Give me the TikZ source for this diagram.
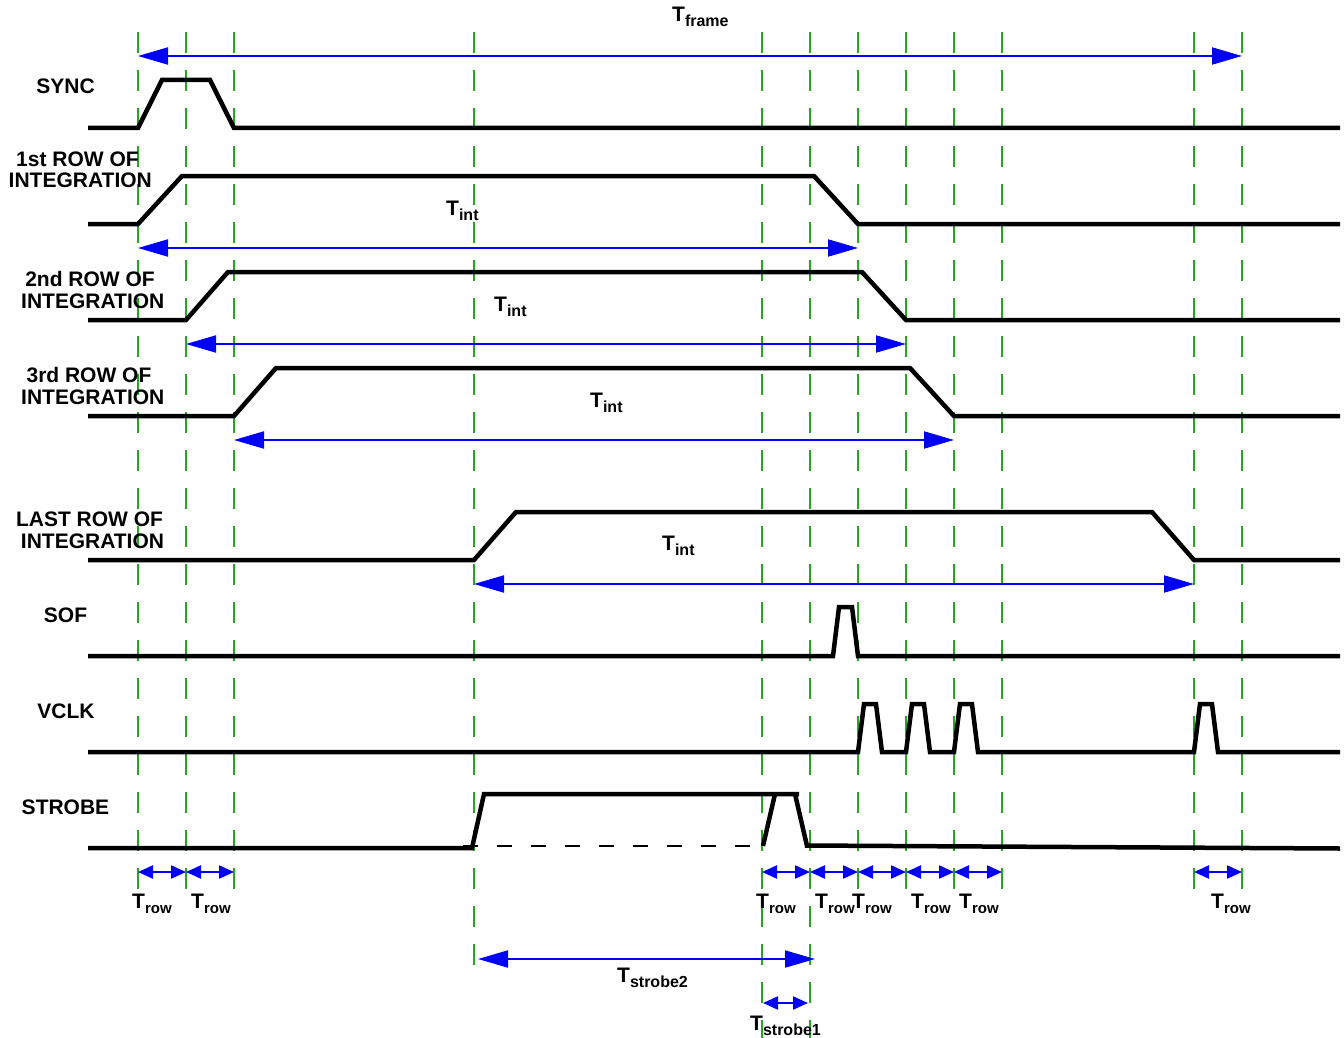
\documentclass[tikz,border=0pt]{standalone}
\usepackage{fontspec}
\setmainfont{Liberation Sans}
\usetikzlibrary{arrows.meta}
\definecolor{gridgreen}{RGB}{30,172,30}
\definecolor{dimblue}{RGB}{0,0,250}
\newcommand\Tsub[1]{T\raisebox{-5pt}{\fontsize{16}{16}\selectfont #1}}
\newcommand\Trowlbl{T\raisebox{-5pt}{\fontsize{15}{15}\selectfont row}}
\tikzset{
  sig/.style={draw=black, line width=4.5pt, line join=miter},
  gridline/.style={draw=gridgreen, line width=2pt, dash pattern=on 21pt off 17pt},
  dimbig/.style={draw=dimblue, line width=2pt,
    {Triangle[length=30pt,width=17pt]}-{Triangle[length=30pt,width=17pt]}},
  dimsmall/.style={draw=dimblue, line width=2.2pt,
    {Triangle[length=15pt,width=13pt]}-{Triangle[length=15pt,width=13pt]}},
  lbl/.style={font=\bfseries\fontsize{21}{21}\selectfont, inner sep=0pt, anchor=base},
  tlbl/.style={font=\bfseries\fontsize{21}{21}\selectfont, inner sep=0pt, anchor=base west},
}
\begin{document}
\begin{tikzpicture}[x=1pt,y=-1pt]
\useasboundingbox (0,0) rectangle (1344,1038);

% ---- grid (green dashed) ----
\foreach \n/\x/\b in {1/138/896, 2/186/896, 3/234/896, 4/474/965, 5/762/1038, 6/810/1038,
                      7/858/896, 8/906/896, 9/954/896, 10/1002/896, 11/1194/896, 12/1242/896}{
  \coordinate (gt\n) at (\x,32);
  \coordinate (gb\n) at (\x,\b);
  \draw[gridline] (gt\n) -- (gb\n);
}

% ---- reference heights for dimension arrows ----
\coordinate (yframe) at (0,56);
\coordinate (yint1) at (0,248);
\coordinate (yint2) at (0,344);
\coordinate (yint3) at (0,440);
\coordinate (yint4) at (0,584);
\coordinate (yrow) at (0,872);

% ---- dimension arrows ----
\draw[dimbig] (gt1 |- yframe) -- (gt12 |- yframe);
\draw[dimbig] (gt1 |- yint1) -- (gt7 |- yint1);
\draw[dimbig] (gt2 |- yint2) -- (gt8 |- yint2);
\draw[dimbig] (gt3 |- yint3) -- (gt9 |- yint3);
\draw[dimbig] (gt4 |- yint4) -- (gt11 |- yint4);
\coordinate (s2a) at (478,959);
\coordinate (s2b) at (815,959);
\draw[dimbig] (s2a) -- (s2b);
\coordinate (s1a) at (763,1003);
\coordinate (s1b) at (808,1003);
\draw[dimsmall] (s1a) -- (s1b);
\foreach \a/\b in {1/2, 2/3, 5/6, 6/7, 7/8, 8/9, 9/10, 11/12}{
  \draw[dimsmall] (gt\a |- yrow) -- (gt\b |- yrow);
}

% ---- signals ----
\draw[sig] (88,128) -- (138,128) -- (162,80) -- (210,80) -- (234,128) -- (1340,128);
\draw[sig] (88,224) -- (138,224) -- (182,176) -- (814,176) -- (858,224) -- (1340,224);
\draw[sig] (88,320) -- (186,320) -- (228,272) -- (862,272) -- (906,320) -- (1340,320);
\draw[sig] (88,416) -- (234,416) -- (276,368) -- (910,368) -- (954,416) -- (1340,416);
\draw[sig] (88,560) -- (474,560) -- (516,512) -- (1152,512) -- (1194,560) -- (1340,560);
\draw[sig] (88,656) -- (833,656) -- (839,607) -- (852,607) -- (858,656) -- (1340,656);
\draw[sig] (88,752) -- (858,752) -- (864,704) -- (876,704) -- (882,752)
  -- (906,752) -- (912,704) -- (924,704) -- (930,752)
  -- (954,752) -- (960,704) -- (972,704) -- (978,752)
  -- (1194,752) -- (1200,704) -- (1212,704) -- (1218,752) -- (1340,752);
\draw[sig] (88,848) -- (472,848) -- (484,794) -- (799,794);
\draw[sig] (763,846) -- (775,794);
\draw[sig] (795,794) -- (807,846);
\draw[sig] (805,845.5) -- (1340,848.5);
\draw[black, line width=2.5pt, dash pattern=on 15pt off 19pt] (463,846) -- (763,846);

% ---- left labels ----
\node[lbl] (nsync) at (65.5,94) {SYNC};
\node[lbl] (nr1a) at (77.5,166) {1st ROW OF};
\node[lbl] (nr1b) at (80.3,187) {INTEGRATION};
\node[lbl] (nr2a) at (90,286) {2nd ROW OF};
\node[lbl] (nr2b) at (92.8,308) {INTEGRATION};
\node[lbl] (nr3a) at (89,382) {3rd ROW OF};
\node[lbl] (nr3b) at (92.8,404) {INTEGRATION};
\node[lbl] (nr4a) at (89.5,526) {LAST ROW OF};
\node[lbl] (nr4b) at (92.5,548) {INTEGRATION};
\node[lbl] (nsof) at (65.5,622) {SOF};
\node[lbl] (nvclk) at (66,718) {VCLK};
\node[lbl] (nstrobe) at (65.5,814) {STROBE};

% ---- timing labels ----
\node[tlbl] (tframe) at (672,22) {\Tsub{frame}};
\node[tlbl] (tint1) at (446,215) {\Tsub{int}};
\node[tlbl] (tint2) at (494,311) {\Tsub{int}};
\node[tlbl] (tint3) at (590,407) {\Tsub{int}};
\node[tlbl] (tint4) at (662,550) {\Tsub{int}};
\foreach \n/\x in {1/132, 2/191, 3/756, 4/815, 5/852, 6/911, 7/959, 8/1211}{
  \node[tlbl] (trow\n) at (\x,908) {\Trowlbl};
}
\node[tlbl] (ts2) at (617,982) {\Tsub{strobe2}};
\node[tlbl] (ts1) at (750,1030) {\Tsub{strobe1}};
\end{tikzpicture}
\end{document}
